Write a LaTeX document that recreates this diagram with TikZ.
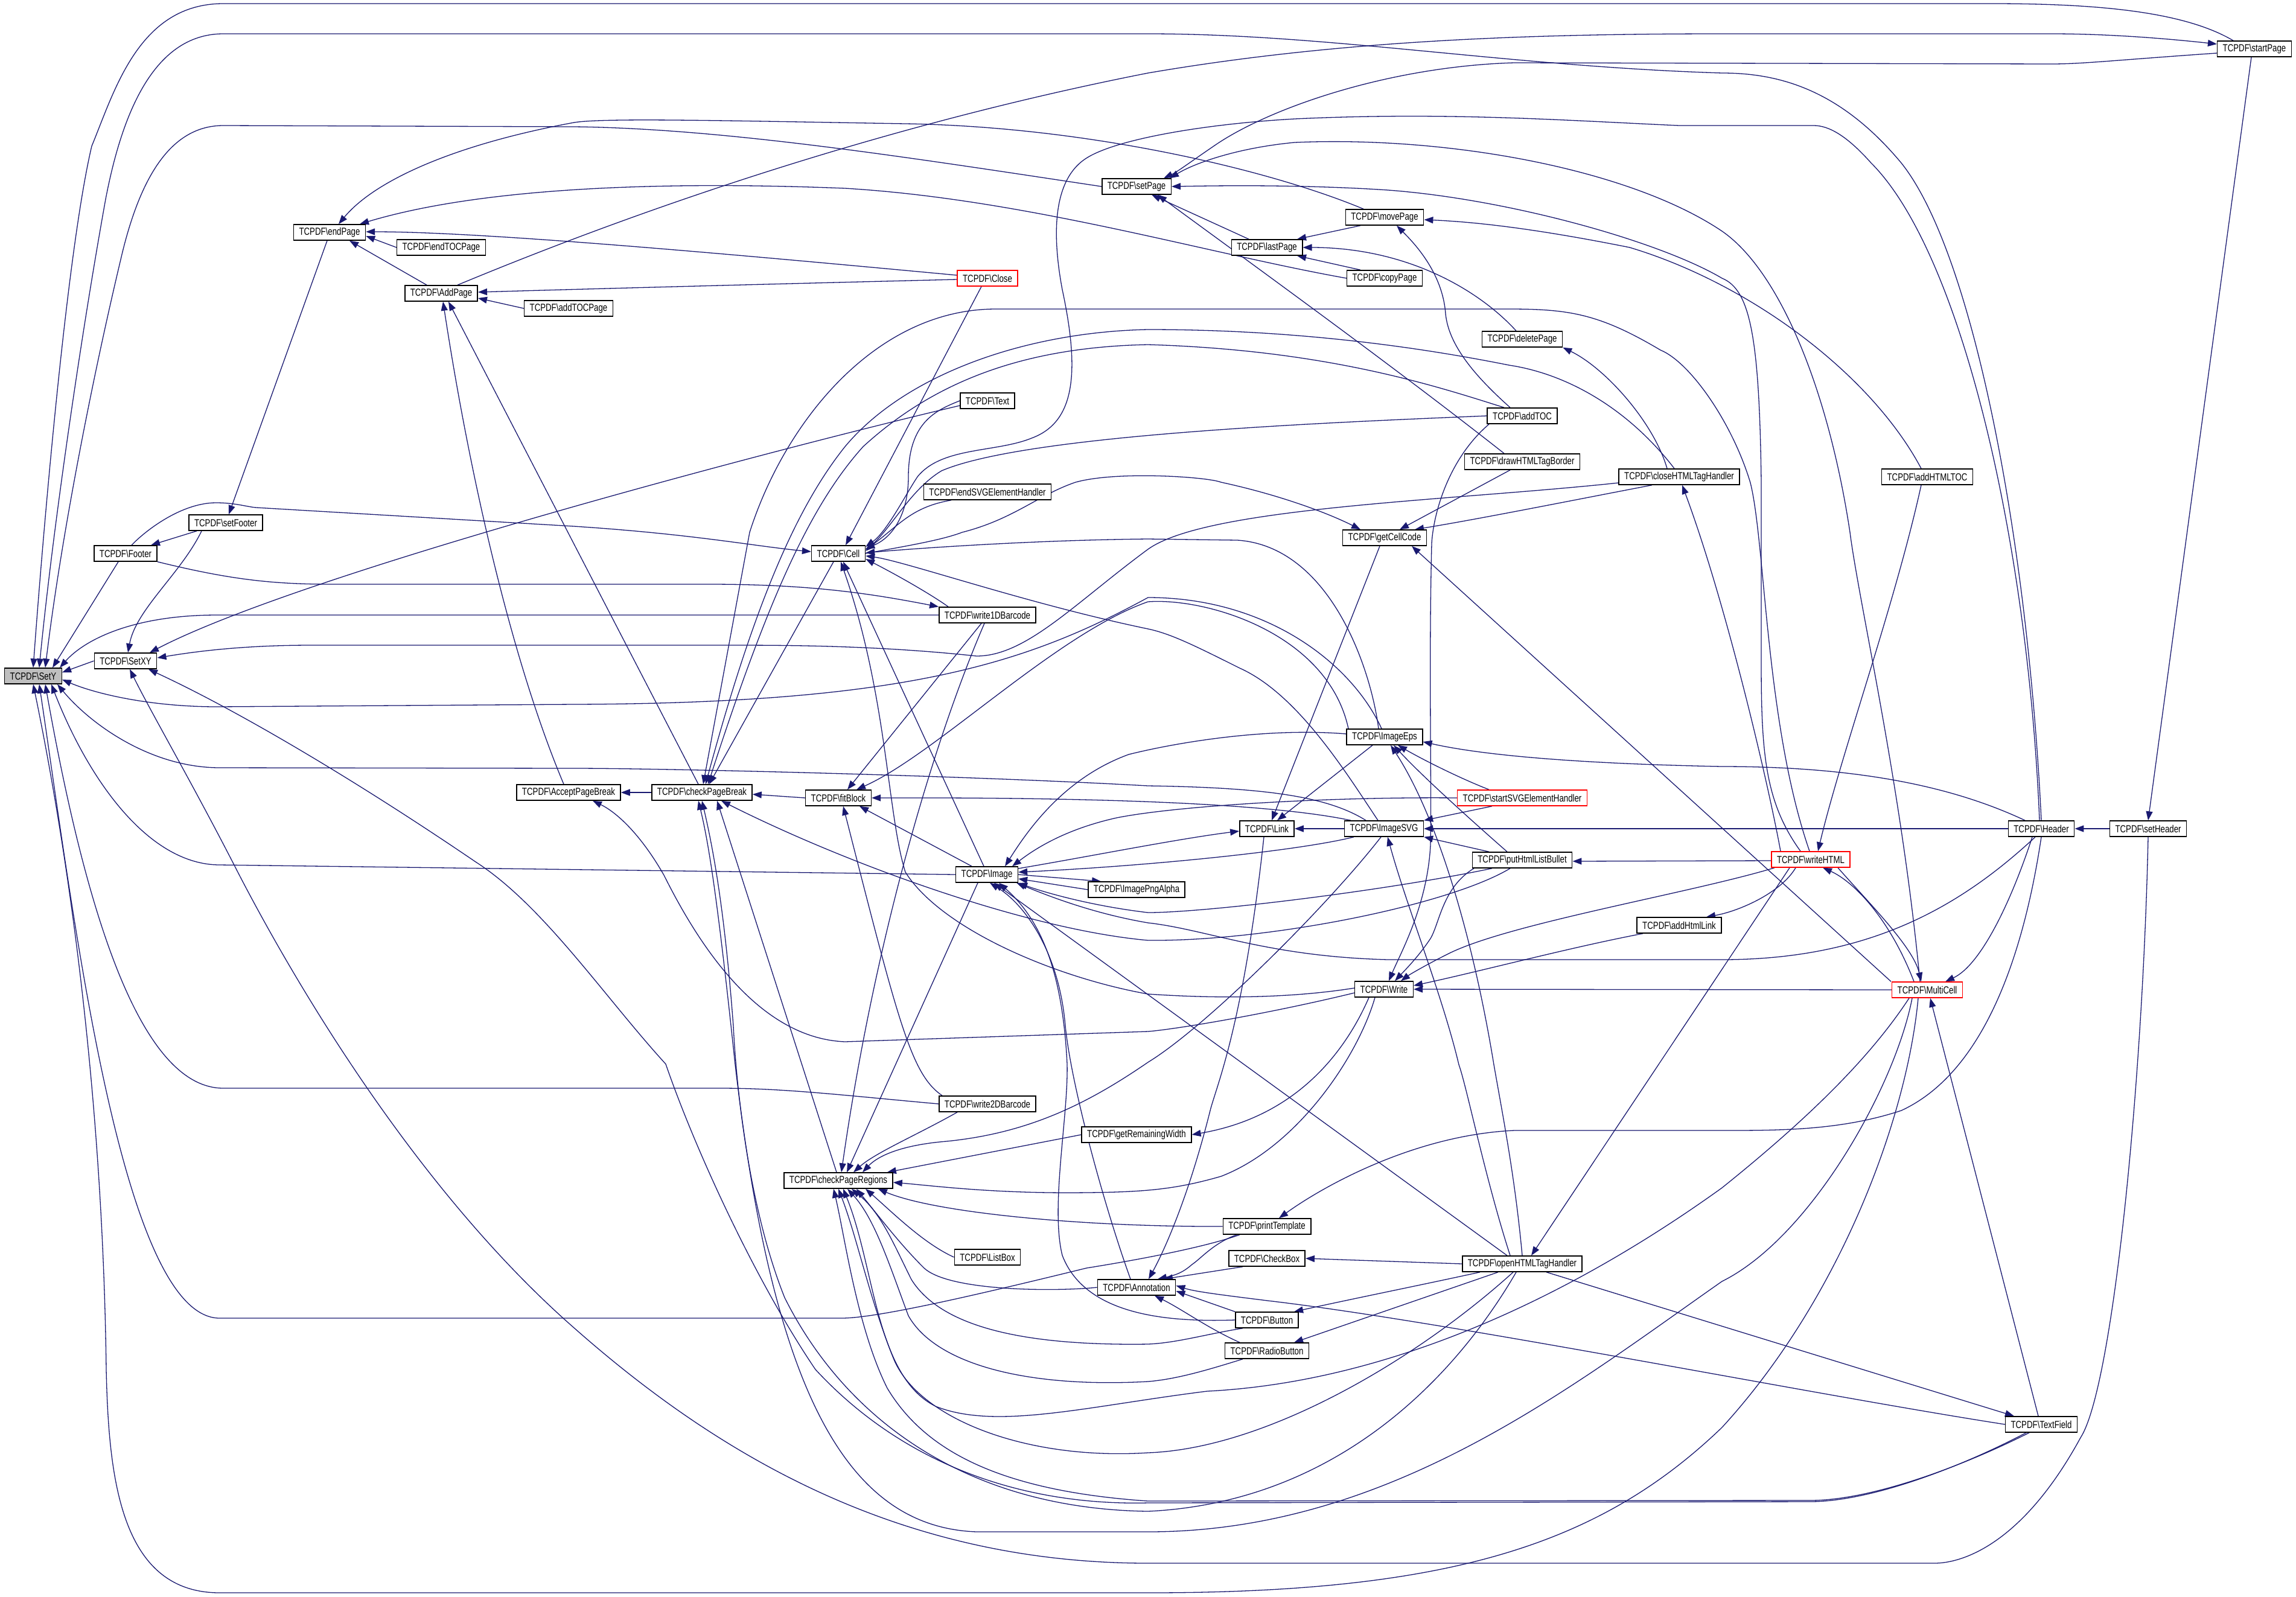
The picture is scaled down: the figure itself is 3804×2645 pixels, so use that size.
\documentclass[tikz,border=0pt]{standalone}
\usepackage{fontspec}
\usepackage{graphicx}
\usetikzlibrary{arrows.meta,backgrounds}
\setmainfont{Liberation Sans}
\definecolor{edgeblue}{HTML}{191970}
\newcommand{\fnname}[1]{\scalebox{0.78}[1]{TCPDF\textbackslash #1}}

\begin{document}
\begin{tikzpicture}[x=1pt, y=-1pt,
    fn/.style={draw=black, line width=1.5pt, fill=white, minimum height=26pt, inner xsep=9pt, inner ysep=0pt, font=\fontsize{17}{19}\selectfont},
    fnred/.style={fn, draw=red},
    root/.style={fn, fill=gray!50},
    call/.style={draw=edgeblue, line width=1.3pt, -{Triangle[length=15pt,width=11pt]}}
  ]
  \useasboundingbox (0,0) rectangle (3804,2645);

  \node[root] (sety) at (55,1120) {\fnname{SetY}};
  \node[fn] (footer) at (208,917) {\fnname{Footer}};
  \node[fn] (setxy) at (208,1095) {\fnname{SetXY}};
  \node[fn] (setfooter) at (374,866) {\fnname{setFooter}};
  \node[fn] (endpage) at (546,385) {\fnname{endPage}};
  \node[fn] (endtocpage) at (731,410) {\fnname{endTOCPage}};
  \node[fn] (addpage) at (731,486) {\fnname{AddPage}};
  \node[fn] (addtocpage) at (942,511) {\fnname{addTOCPage}};
  \node[fn] (acceptpb) at (942,1313) {\fnname{AcceptPageBreak}};
  \node[fn] (checkpb) at (1163,1313) {\fnname{checkPageBreak}};
  \node[fn] (cell) at (1389,917) {\fnname{Cell}};
  \node[fn] (fitblock) at (1389,1322) {\fnname{fitBlock}};
  \node[fn] (checkpr) at (1389,1956) {\fnname{checkPageRegions}};
  \node[fnred] (close) at (1636,461) {\fnname{Close}};
  \node[fn] (text) at (1636,664) {\fnname{Text}};
  \node[fn] (endsvg) at (1636,815) {\fnname{endSVGElementHandler}};
  \node[fn] (w1d) at (1636,1019) {\fnname{write1DBarcode}};
  \node[fn] (image) at (1635,1449) {\fnname{Image}};
  \node[fn] (w2d) at (1636,1829) {\fnname{write2DBarcode}};
  \node[fn] (listbox) at (1636,2083) {\fnname{ListBox}};
  \node[fn] (setpage) at (1883,309) {\fnname{setPage}};
  \node[fn] (pngalpha) at (1883,1474) {\fnname{ImagePngAlpha}};
  \node[fn] (remwidth) at (1883,1880) {\fnname{getRemainingWidth}};
  \node[fn] (annot) at (1883,2133) {\fnname{Annotation}};
  \node[fn] (lastpage) at (2099,410) {\fnname{lastPage}};
  \node[fn] (link) at (2099,1373) {\fnname{Link}};
  \node[fn] (printtpl) at (2099,2032) {\fnname{printTemplate}};
  \node[fn] (checkbox) at (2099,2085) {\fnname{CheckBox}};
  \node[fn] (button) at (2099,2187) {\fnname{Button}};
  \node[fn] (radio) at (2099,2238) {\fnname{RadioButton}};
  \node[fn] (movepage) at (2294,360) {\fnname{movePage}};
  \node[fn] (copypage) at (2294,461) {\fnname{copyPage}};
  \node[fn] (getcellcode) at (2294,891) {\fnname{getCellCode}};
  \node[fn] (imageeps) at (2294,1221) {\fnname{ImageEps}};
  \node[fn] (imagesvg) at (2293,1373) {\fnname{ImageSVG}};
  \node[fn] (write) at (2293,1639) {\fnname{Write}};
  \node[fn] (deletepage) at (2522,562) {\fnname{deletePage}};
  \node[fn] (addtoc) at (2522,689) {\fnname{addTOC}};
  \node[fn] (drawborder) at (2522,765) {\fnname{drawHTMLTagBorder}};
  \node[fnred] (startsvg) at (2522,1322) {\fnname{startSVGElementHandler}};
  \node[fn] (listbullet) at (2522,1425) {\fnname{putHtmlListBullet}};
  \node[fn] (openhtml) at (2522,2094) {\fnname{openHTMLTagHandler}};
  \node[fn] (closehtml) at (2782,790) {\fnname{closeHTMLTagHandler}};
  \node[fn] (addhtmllink) at (2782,1533) {\fnname{addHtmlLink}};
  \node[fnred] (writehtml) at (3000,1424) {\fnname{writeHTML}};
  \node[fn] (addhtmltoc) at (3193,790) {\fnname{addHTMLTOC}};
  \node[fnred] (multicell) at (3193,1640) {\fnname{MultiCell}};
  \node[fn] (header) at (3382,1373) {\fnname{Header}};
  \node[fn] (textfield) at (3382,2360) {\fnname{TextField}};
  \node[fn] (setheader) at (3559,1373) {\fnname{setHeader}};
  \node[fn] (startpage) at (3735,81) {\fnname{startPage}};

  \begin{scope}[on background layer]
    \draw[call] ([xshift=-35pt]startpage.north) .. controls (3620,20) and (3480,6) .. (3300,6) -- (370,6) .. controls (230,6) and (190,150) .. (152,242) .. controls (110,420) and (70,900) .. ([xshift=0pt]sety.north);
    \draw[call] (header.north) .. controls (3360,900) and (3270,420) .. (3150,270) .. controls (3050,150) and (2950,121) .. (2853,121) .. controls (2500,110) and (2200,56) .. (1902,56) -- (370,56) .. controls (250,56) and (200,200) .. (175,330) .. controls (130,580) and (85,900) .. ([xshift=10pt]sety.north);
    \draw[call] (setpage.west) .. controls (1500,260) and (1200,213) .. (951,210) -- (370,208) .. controls (280,208) and (230,300) .. (200,430) .. controls (150,640) and (100,900) .. ([xshift=20pt]sety.north);
    \draw[call] ([xshift=-12pt]footer.south) -- ([xshift=32pt]sety.north);
    \draw[call] (setxy.west) -- ([yshift=6pt]sety.east);
    \draw[call] (w1d.west) -- (360,1019) .. controls (220,1019) and (140,1060) .. ([xshift=44pt]sety.north);
    \draw[call] ([xshift=-5pt]imageeps.north) .. controls (2240,1100) and (2100,990) .. (1902,990) .. controls (1700,1100) and (1500,1165) .. (951,1167) -- (360,1171) .. controls (250,1171) and (160,1150) .. ([yshift=-6pt]sety.east);
    \draw[call] ([xshift=-30pt]imagesvg.north) .. controls (2200,1320) and (2100,1305) .. (1902,1302) .. controls (1600,1285) and (1100,1273) .. (951,1273) -- (364,1272) .. controls (250,1272) and (150,1200) .. ([xshift=40pt]sety.south);
    \draw[call] (image.west) -- (364,1433) .. controls (250,1433) and (150,1300) .. ([xshift=30pt]sety.south);
    \draw[call] (w2d.west) .. controls (1400,1815) and (1300,1803) .. (1194,1803) -- (370,1803) .. controls (230,1803) and (140,1500) .. ([xshift=20pt]sety.south);
    \draw[call] ([xshift=-45pt]printtpl.south) .. controls (2000,2065) and (1900,2085) .. (1800,2101) .. controls (1600,2150) and (1450,2184) .. (1394,2184) -- (364,2184) .. controls (200,2184) and (120,1500) .. ([xshift=10pt]sety.south);
    \draw[call] ([xshift=-15pt]multicell.south) .. controls (3160,1850) and (3050,2150) .. (2853,2365) .. controls (2650,2560) and (2400,2639) .. (1902,2639) -- (364,2639) .. controls (200,2639) and (180,2450) .. (176,2269) .. controls (170,1800) and (110,1400) .. (sety.south);

    \draw[call] ([xshift=-40pt]setfooter.south) .. controls (300,950) and (225,1010) .. ([xshift=4pt]setxy.north);
    \draw[call] ([yshift=-8pt]text.west) .. controls (1300,740) and (500,950) .. ([xshift=40pt]setxy.north);
    \draw[call] ([yshift=-10pt]closehtml.west) .. controls (2400,830) and (2000,840) .. (1902,910) .. controls (1780,1000) and (1700,1087) .. (1618,1087) .. controls (1450,1069) and (1300,1069) .. (1200,1069) -- (516,1069) .. controls (400,1069) and (320,1080) .. ([yshift=5pt]setxy.east);
    \draw[call] (setheader.south) .. controls (3550,1800) and (3500,2300) .. (3447,2382) .. controls (3350,2560) and (3250,2590) .. (3205,2590) -- (1902,2590) .. controls (1500,2590) and (1200,2420) .. (951,2200) .. controls (700,1980) and (500,1650) .. (394,1445) .. controls (320,1300) and (250,1180) .. ([xshift=7pt]setxy.south);
    \draw[call] ([xshift=-25pt]textfield.south) .. controls (3250,2430) and (3100,2488) .. (2999,2488) -- (1902,2490) .. controls (1700,2495) and (1500,2430) .. (1351,2269) .. controls (1250,2120) and (1150,1900) .. (1103,1763) .. controls (1000,1650) and (900,1500) .. (788,1428) .. controls (600,1300) and (400,1180) .. ([xshift=38pt]setxy.south);

    \draw[call] ([xshift=-48pt]setfooter.south) -- ([xshift=42pt]footer.north);
    \draw[call] ([xshift=-4pt]endpage.south) -- ([xshift=5pt]setfooter.north);

    \draw[call] ([xshift=-24pt]addpage.north) -- ([xshift=33pt]endpage.south);
    \draw[call] (endtocpage.west) -- ([yshift=-6pt]endpage.east);
    \draw[call] ([yshift=5pt]close.west) .. controls (1200,420) and (800,384) .. ([yshift=1pt]endpage.east);
    \draw[call] (copypage.west) .. controls (2000,420) and (1700,330) .. (1400,312) .. controls (1100,300) and (800,310) .. ([xshift=50pt]endpage.north);
    \draw[call] ([xshift=-35pt]movepage.north) .. controls (2100,280) and (1800,210) .. (1500,205) .. controls (1200,200) and (1000,195) .. (951,203) .. controls (750,240) and (620,300) .. ([xshift=15pt]endpage.north);

    \draw[call] ([yshift=-2pt]close.west) .. controls (1300,470) and (1000,478) .. ([yshift=2pt]addpage.east);
    \draw[call] (addtocpage.west) -- ([yshift=-8pt]addpage.east);
    \draw[call] ([xshift=-8pt]acceptpb.north) .. controls (850,1100) and (780,800) .. ([xshift=3pt]addpage.south);
    \draw[call] ([xshift=-6pt]checkpb.north) -- ([xshift=12pt]addpage.south);

    \draw[call] ([xshift=27pt]addpage.north) .. controls (1100,330) and (1500,200) .. (1902,121) .. controls (2200,70) and (2500,56) .. (2853,56) -- (3399,56) .. controls (3500,56) and (3600,65) .. ([yshift=8pt]startpage.west);
    \draw[call] ([xshift=-5pt]startpage.south) -- (setheader.north);
    \draw[call] (setheader.west) -- (header.east);

    \draw[call] ([yshift=-7pt]startpage.west) .. controls (3500,100) and (3450,106) .. (3399,106) -- (2509,104) .. controls (2300,110) and (2100,180) .. (2011,242) .. controls (1970,270) and (1950,285) .. ([xshift=45pt]setpage.north);
    \draw[call] ([xshift=-17pt]writehtml.north) .. controls (2925,1330) and (2918,1250) .. (2918,1100) -- (2918,800) .. controls (2915,560) and (2900,480) .. (2853,461) .. controls (2750,400) and (2500,330) .. (2300,315) .. controls (2150,305) and (2000,308) .. (setpage.east);
    \draw[call] ([xshift=-12pt]multicell.north) .. controls (3150,1300) and (3080,1000) .. (3065,882) .. controls (3030,650) and (2950,450) .. (2853,383) .. controls (2700,280) and (2400,225) .. (2145,236) .. controls (2050,245) and (1980,270) .. ([xshift=55pt]setpage.north);
    \draw[call] ([xshift=-30pt]lastpage.north) -- ([xshift=25pt]setpage.south);
    \draw[call] ([xshift=-30pt]drawborder.north) .. controls (2300,600) and (2050,420) .. ([xshift=35pt]setpage.south);

    \draw[call] ([xshift=-10pt]addhtmltoc.north) .. controls (3100,620) and (2900,470) .. (2700,410) .. controls (2550,380) and (2450,368) .. ([yshift=-4pt]movepage.east);
    \draw[call] ([xshift=-20pt]addtoc.north) .. controls (2440,620) and (2400,570) .. (2395,520) .. controls (2390,450) and (2340,400) .. ([xshift=20pt]movepage.south);
    \draw[call] ([xshift=-40pt]movepage.south) -- ([xshift=50pt]lastpage.north);
    \draw[call] ([xshift=-40pt]copypage.north) -- ([xshift=50pt]lastpage.south);
    \draw[call] ([xshift=-10pt]deletepage.north) .. controls (2450,480) and (2330,410) .. (lastpage.east);
    \draw[call] ([xshift=-20pt]closehtml.north) .. controls (2740,700) and (2660,610) .. (deletepage.south east);

    \draw[call] ([xshift=-45pt]closehtml.south) .. controls (2600,830) and (2450,860) .. ([xshift=50pt]getcellcode.north);
    \draw[call] ([xshift=-20pt]drawborder.south) -- ([xshift=25pt]getcellcode.north);
    \draw[call] (cell.east) .. controls (1500,905) and (1560,895) .. (1594,882) .. controls (1680,860) and (1720,820) .. (1782,799) .. controls (1850,780) and (2000,790) .. (2023,799) .. controls (2120,820) and (2200,850) .. ([xshift=-40pt]getcellcode.north);
    \draw[call] ([xshift=-60pt]multicell.north) -- ([xshift=45pt]getcellcode.south);

    \draw[call] (imagesvg.west) -- (link.east);
    \draw[call] ([xshift=-20pt]imageeps.south) -- ([xshift=17pt]link.north);
    \draw[call] ([xshift=-8pt]getcellcode.south) -- ([xshift=8pt]link.north);
    \draw[call] ([yshift=10pt]image.east) .. controls (1800,1420) and (1950,1390) .. ([yshift=-4pt]link.west);

    \draw[call] ([xshift=-5pt]link.south) .. controls (2060,1700) and (2015,1800) .. (2005,1840) .. controls (1970,1980) and (1930,2070) .. ([xshift=20pt]annot.north);
    \draw[call] ([xshift=-40pt]checkbox.south) -- ([xshift=45pt]annot.north);
    \draw[call] (button.north west) -- ([yshift=-6pt]annot.east);
    \draw[call] ([xshift=-45pt]radio.north) .. controls (2000,2200) and (1960,2170) .. ([xshift=30pt]annot.south);
    \draw[call] ([xshift=-50pt]printtpl.south) .. controls (2010,2060) and (1990,2085) .. (1975,2095) .. controls (1960,2108) and (1950,2112) .. ([xshift=35pt]annot.north);
    \draw[call] (textfield.west) .. controls (3000,2310) and (2400,2190) .. (2100,2155) .. controls (2020,2145) and (1980,2140) .. ([yshift=3pt]annot.east);

    \draw[call] ([xshift=40pt]openhtml.south) -- ([xshift=-45pt]textfield.north);
    \draw[call] ([xshift=-5pt]textfield.north) -- ([xshift=5pt]multicell.south);
    \draw[call] ([xshift=-15pt]header.south) .. controls (3330,1500) and (3280,1600) .. ([xshift=30pt]multicell.north);
    \draw[call] ([xshift=45pt]writehtml.south) .. controls (3100,1500) and (3170,1570) .. ([xshift=-10pt]multicell.north);
    \draw[call] ([xshift=-10pt]addhtmltoc.south) .. controls (3140,1000) and (3050,1250) .. ([xshift=12pt]writehtml.north);
    \draw[call] ([xshift=-22pt]multicell.north) .. controls (3130,1520) and (3070,1460) .. ([xshift=20pt]writehtml.south);
    \draw[call] ([yshift=-2pt]writehtml.west) -- ([yshift=-2pt]listbullet.east);
    \draw[call] ([xshift=-25pt]writehtml.south) .. controls (2950,1480) and (2880,1510) .. ([xshift=45pt]addhtmllink.north);
    \draw[call] ([xshift=-50pt]writehtml.north) .. controls (2930,1300) and (2860,1000) .. ([xshift=5pt]closehtml.south);
    \draw[call] ([xshift=-35pt]writehtml.south) -- ([xshift=15pt]openhtml.north);

    \draw[call] (multicell.west) -- (write.east);
    \draw[call] ([xshift=-60pt]addhtmllink.south) .. controls (2600,1570) and (2450,1610) .. ([yshift=6pt]write.east);
    \draw[call] ([xshift=-60pt]writehtml.south) .. controls (2800,1480) and (2500,1530) .. (2400,1580) .. controls (2360,1600) and (2335,1615) .. ([xshift=28pt]write.north);
    \draw[call] ([xshift=-80pt]listbullet.south) .. controls (2390,1470) and (2385,1530) .. (2370,1555) .. controls (2350,1585) and (2330,1605) .. ([xshift=18pt]write.north);
    \draw[call] ([xshift=-55pt]addtoc.south) .. controls (2400,760) and (2375,850) .. (2372,900) .. controls (2367,1100) and (2372,1300) .. (2370,1400) .. controls (2365,1500) and (2320,1580) .. ([xshift=8pt]write.north);

    \draw[call] ([xshift=-55pt]startsvg.north) .. controls (2420,1290) and (2360,1260) .. ([xshift=22pt]imageeps.south);
    \draw[call] ([xshift=-25pt]listbullet.north) .. controls (2450,1370) and (2360,1290) .. ([xshift=15pt]imageeps.south);
    \draw[call] ([xshift=-27pt]header.north) .. controls (3250,1310) and (3100,1270) .. (2853,1270) .. controls (2600,1265) and (2450,1250) .. ([yshift=-8pt]imageeps.east);
    \draw[call] (openhtml.north) .. controls (2510,1950) and (2490,1850) .. (2475,1764) .. controls (2440,1550) and (2380,1350) .. ([xshift=10pt]imageeps.south);

    \draw[call] ([xshift=-50pt]startsvg.south) -- (imagesvg.north east);
    \draw[call] ([xshift=-55pt]listbullet.north) -- (imagesvg.south east);
    \draw[call] (header.west) -- (imagesvg.east);
    \draw[call] ([xshift=-20pt]openhtml.north) .. controls (2460,1950) and (2430,1800) .. (2417,1764) .. controls (2390,1650) and (2330,1500) .. ([xshift=6pt]imagesvg.south);

    \draw[call] ([yshift=5pt]imageeps.west) .. controls (2100,1205) and (1950,1230) .. (1870,1250) .. controls (1760,1290) and (1700,1380) .. ([xshift=30pt]image.north);
    \draw[call] (startsvg.west) .. controls (2200,1320) and (1950,1335) .. (1850,1355) .. controls (1760,1375) and (1710,1410) .. ([xshift=42pt]image.north);
    \draw[call] ([xshift=-50pt]imagesvg.south) .. controls (2150,1410) and (1900,1435) .. ([yshift=4pt]image.east);
    \draw[call] ([xshift=-50pt]listbullet.south) .. controls (2300,1475) and (2000,1512) .. (1902,1512) .. controls (1800,1500) and (1720,1475) .. (image.south east);
    \draw[call] (pngalpha.west) -- ([yshift=-7pt]image.east);
    \draw[call] ([xshift=-25pt]openhtml.north) -- ([xshift=12pt]image.south);
    \draw[call] ([xshift=-10pt]annot.north) .. controls (1830,2000) and (1775,1800) .. (1765,1700) .. controls (1755,1580) and (1700,1500) .. ([xshift=5pt]image.south);
    \draw[call] (button.west) .. controls (1950,2190) and (1800,2185) .. (1760,2080) .. controls (1740,2000) and (1770,1850) .. (1768,1763) .. controls (1760,1600) and (1720,1520) .. ([xshift=20pt]image.south);
    \draw[call] ([xshift=-10pt]header.south) .. controls (3250,1500) and (3100,1590) .. (2853,1590) -- (2300,1590) .. controls (2100,1585) and (2000,1540) .. (1902,1529) .. controls (1820,1515) and (1750,1490) .. ([xshift=-3pt]image.south east);
    \draw[call] (image.east) -- ([xshift=22pt]pngalpha.north west);

    \draw[call] ([xshift=-10pt]w1d.south) -- ([xshift=15pt]fitblock.north);
    \draw[call] ([xshift=-60pt]imageeps.north) .. controls (2200,1050) and (2000,990) .. (1902,997) .. controls (1750,1050) and (1550,1250) .. ([xshift=30pt]fitblock.north);
    \draw[call] ([xshift=-25pt]image.north) -- ([xshift=35pt]fitblock.south);
    \draw[call] ([xshift=-55pt]imagesvg.north) .. controls (2100,1330) and (1800,1321) .. (fitblock.east);
    \draw[call] ([xshift=-75pt]w2d.north) .. controls (1510,1780) and (1490,1700) .. ([xshift=8pt]fitblock.south);

    \draw[call] ([xshift=-8pt]cell.south) -- ([xshift=12pt]checkpb.north);
    \draw[call] (fitblock.west) -- ([yshift=-3pt]checkpb.east);
    \draw[call] ([xshift=-2pt]writehtml.north) .. controls (2925,1200) and (2925,900) .. (2900,800) .. controls (2870,700) and (2800,600) .. (2751,580) .. controls (2650,520) and (2600,512) .. (2500,512) -- (1650,512) .. controls (1450,512) and (1300,700) .. (1242,882) -- ([xshift=2pt]checkpb.north);
    \draw[call] ([xshift=-8pt]closehtml.north) .. controls (2700,680) and (2600,620) .. (2500,605) .. controls (2300,565) and (2100,546) .. (1902,546) .. controls (1700,550) and (1500,620) .. (1400,740) .. controls (1320,840) and (1250,1000) .. ([xshift=6pt]checkpb.north);
    \draw[call] ([xshift=-30pt]addtoc.north) .. controls (2380,640) and (2200,580) .. (1902,571) .. controls (1700,575) and (1550,630) .. (1430,740) .. controls (1340,840) and (1270,1000) .. ([xshift=10pt]checkpb.north);
    \draw[call] ([xshift=-25pt]multicell.south) .. controls (3140,1800) and (3000,2050) .. (2853,2123) .. controls (2600,2300) and (2300,2538) .. (1902,2538) -- (1618,2538) .. controls (1400,2530) and (1280,2300) .. (1218,1764) .. controls (1190,1500) and (1175,1400) .. ([xshift=-6pt]checkpb.south);
    \draw[call] ([xshift=-10pt]openhtml.south) .. controls (2400,2300) and (2200,2490) .. (1902,2504) .. controls (1600,2500) and (1400,2350) .. (1300,2150) .. controls (1240,2000) and (1220,1800) .. (1215,1700) .. controls (1200,1500) and (1180,1400) .. (checkpb.south);
    \draw[call] ([xshift=-20pt]listbullet.south) .. controls (2400,1500) and (2100,1560) .. (1902,1558) .. controls (1700,1540) and (1400,1430) .. ([xshift=32pt]checkpb.south);
    \draw[call] ([xshift=-3pt]checkpr.north) -- ([xshift=25pt]checkpb.south);

    \draw[call] (checkpb.west) -- (acceptpb.east);
    \draw[call] ([yshift=-6pt]write.west) .. controls (2100,1680) and (1950,1705) .. (1902,1709) -- (1400,1726) .. controls (1250,1720) and (1150,1550) .. (1100,1450) .. controls (1060,1380) and (1020,1345) .. ([xshift=40pt]acceptpb.south);

    \draw[call] ([xshift=10pt]footer.north) .. controls (240,880) and (300,833) .. (358,833) .. controls (390,833) and (410,840) .. (425,841) -- (951,872) .. controls (1150,885) and (1250,905) .. ([yshift=3pt]cell.west);
    \draw[call] ([xshift=-10pt]close.south) -- ([xshift=12pt]cell.north);
    \draw[call] (text.west) .. controls (1550,680) and (1505,700) .. (1505,790) .. controls (1505,850) and (1480,890) .. ([yshift=8pt]cell.east);
    \draw[call] ([xshift=-60pt]endsvg.south) .. controls (1510,840) and (1490,870) .. ([yshift=6pt]cell.east);
    \draw[call] (addtoc.west) .. controls (2200,700) and (1700,720) .. (1560,780) .. controls (1510,810) and (1480,870) .. ([yshift=4pt]cell.east);
    \draw[call] ([xshift=-65pt]w1d.north) .. controls (1550,990) and (1500,960) .. ([yshift=-9pt]cell.east);
    \draw[call] ([xshift=-10pt]imageeps.north) .. controls (2270,1100) and (2200,905) .. (2050,895) -- (1902,893) .. controls (1700,895) and (1500,910) .. ([yshift=1pt]cell.east);
    \draw[call] ([xshift=-10pt]imagesvg.north) .. controls (2230,1280) and (2150,1150) .. (2054,1107) .. controls (1980,1070) and (1940,1050) .. (1902,1042) .. controls (1700,1000) and (1500,930) .. ([yshift=-4pt]cell.east);
    \draw[call] ([xshift=-5pt]image.north) -- ([xshift=8pt]cell.south);
    \draw[call] ([yshift=2pt]write.west) .. controls (2100,1660) and (1950,1650) .. (1902,1647) .. controls (1750,1620) and (1560,1540) .. (1500,1445) .. controls (1470,1350) and (1470,1150) .. ([xshift=4pt]cell.south);
    \draw[call] ([xshift=-3pt]header.north) .. controls (3360,900) and (3250,420) .. (3100,270) .. controls (3060,225) and (3030,208) .. (3005,208) -- (2782,208) .. controls (2600,200) and (2400,185) .. (2145,197) .. controls (2000,205) and (1850,230) .. (1800,262) .. controls (1740,300) and (1745,400) .. (1760,480) .. controls (1790,620) and (1780,700) .. (1709,726) .. controls (1650,750) and (1560,740) .. (1520,790) .. controls (1500,820) and (1470,880) .. ([yshift=11pt]cell.east);

    \draw[call] (remwidth.west) -- ([xshift=-10pt]checkpr.north east);
    \draw[call] ([xshift=-15pt]write.south) .. controls (2250,1750) and (2150,1900) .. (2023,1949) .. controls (1950,1970) and (1900,1975) .. (1800,1976) .. controls (1650,1978) and (1550,1965) .. ([yshift=-3pt]checkpr.east);
    \draw[call] (printtpl.west) .. controls (1800,2033) and (1550,2010) .. ([xshift=-25pt]checkpr.south east);
    \draw[call] ([xshift=-5pt]imagesvg.south) .. controls (2200,1500) and (2000,1700) .. (1902,1760) .. controls (1800,1830) and (1700,1880) .. (1557,1892) .. controls (1480,1900) and (1450,1920) .. ([xshift=40pt]checkpr.north);
    \draw[call] ([xshift=-15pt]image.south) -- ([xshift=14pt]checkpr.north);
    \draw[call] ([xshift=-5pt]w1d.south) .. controls (1550,1220) and (1450,1550) .. ([xshift=5pt]checkpr.north);
    \draw[call] ([xshift=-50pt]w2d.south) .. controls (1520,1880) and (1450,1910) .. ([xshift=25pt]checkpr.north);
    \draw[call] (listbox.west) .. controls (1530,2060) and (1480,2010) .. ([xshift=45pt]checkpr.south);
    \draw[call] (annot.west) .. controls (1750,2140) and (1570,2140) .. (1530,2100) .. controls (1490,2060) and (1460,2020) .. ([xshift=30pt]checkpr.south);
    \draw[call] ([xshift=-40pt]button.south) .. controls (2000,2210) and (1950,2225) .. (1902,2227) .. controls (1700,2230) and (1560,2200) .. (1510,2120) .. controls (1480,2060) and (1460,2010) .. ([xshift=22pt]checkpr.south);
    \draw[call] ([xshift=-40pt]radio.south) .. controls (2000,2270) and (1950,2285) .. (1902,2289) .. controls (1700,2300) and (1550,2260) .. (1505,2180) .. controls (1475,2100) and (1450,2020) .. ([xshift=15pt]checkpr.south);
    \draw[call] ([xshift=-30pt]multicell.south) .. controls (3100,1750) and (3000,1850) .. (2853,1968) .. controls (2600,2150) and (2300,2290) .. (2000,2305) .. controls (1800,2330) and (1650,2370) .. (1550,2330) .. controls (1450,2280) and (1450,2100) .. ([xshift=8pt]checkpr.south);
    \draw[call] ([xshift=-15pt]openhtml.south) .. controls (2350,2250) and (2100,2400) .. (1902,2407) .. controls (1700,2420) and (1520,2350) .. (1480,2250) .. controls (1440,2150) and (1420,2050) .. (checkpr.south);
    \draw[call] ([xshift=-20pt]textfield.south) .. controls (3250,2430) and (3100,2486) .. (2999,2486) -- (1902,2487) .. controls (1650,2470) and (1530,2400) .. (1470,2300) .. controls (1420,2200) and (1400,2050) .. ([xshift=-8pt]checkpr.south);

    \draw[call] ([xshift=-25pt]write.south) .. controls (2230,1740) and (2150,1850) .. (remwidth.east);
    \draw[call] (header.south) .. controls (3350,1600) and (3280,1780) .. (3150,1840) .. controls (3050,1873) and (2950,1873) .. (2853,1873) -- (2509,1873) .. controls (2350,1880) and (2200,1960) .. ([xshift=20pt]printtpl.north);

    \draw[call] (openhtml.west) -- (checkbox.east);
    \draw[call] ([xshift=-70pt]openhtml.south) .. controls (2350,2130) and (2250,2150) .. ([xshift=45pt]button.north);
    \draw[call] ([xshift=-40pt]openhtml.south) -- ([xshift=45pt]radio.north);

    \draw[call] (footer.south east) .. controls (380,960) and (450,968) .. (550,968) -- (1175,968) .. controls (1350,968) and (1450,985) .. (w1d.north west);
  \end{scope}
\end{tikzpicture}
\end{document}
